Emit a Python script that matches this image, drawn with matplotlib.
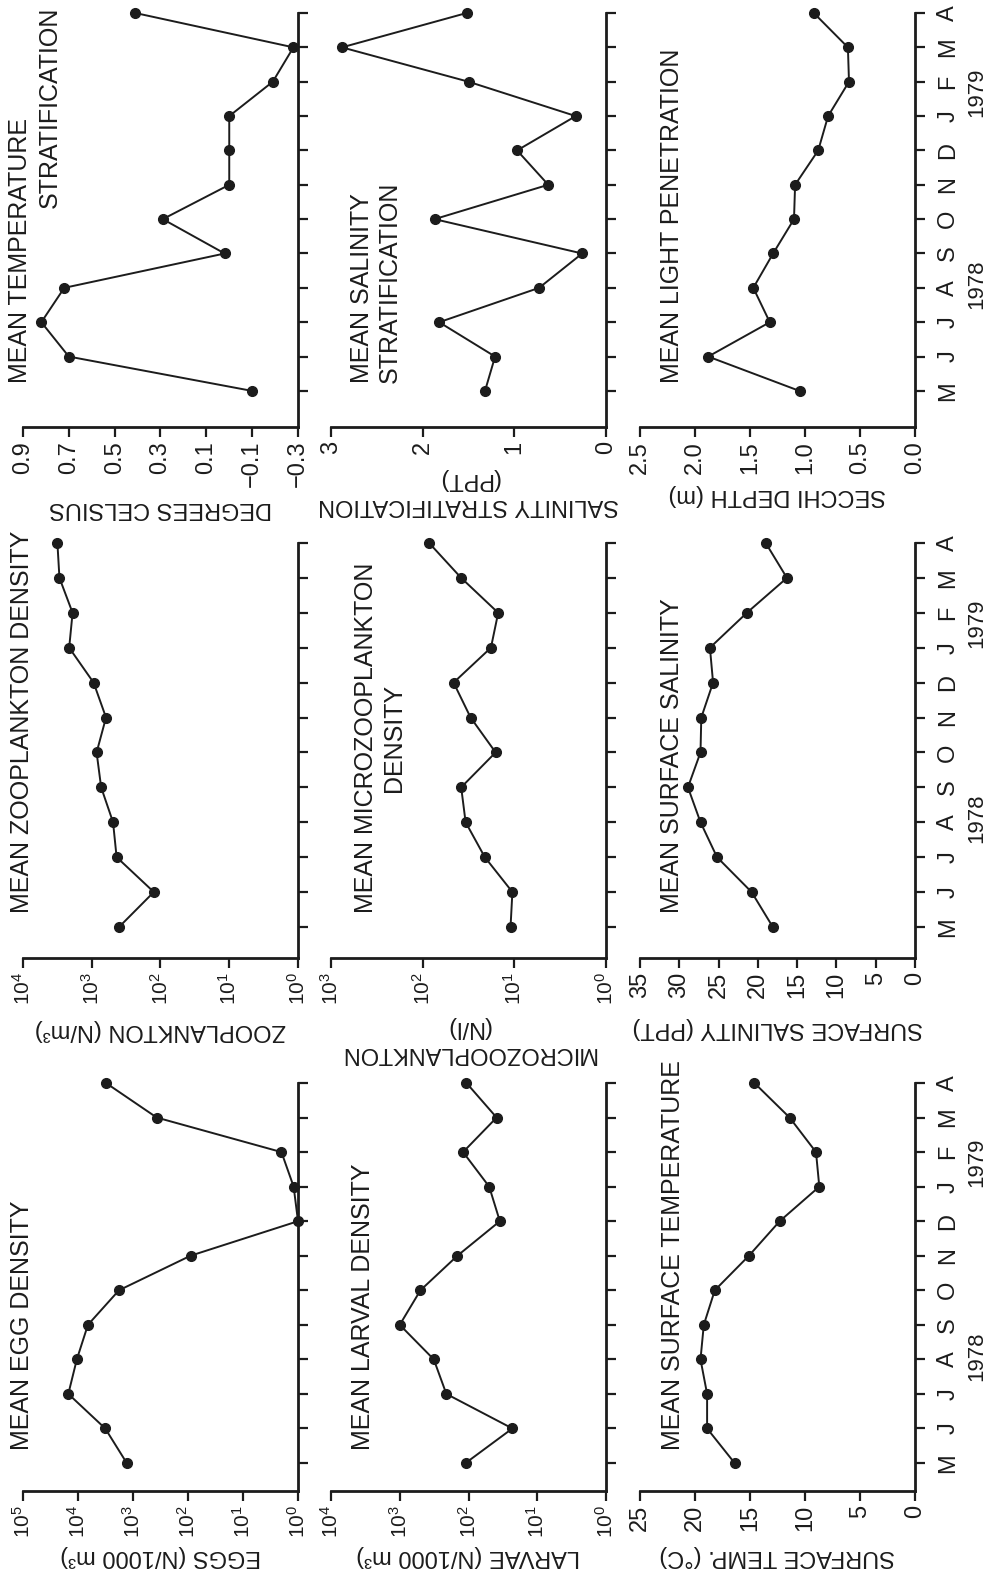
import math
import matplotlib
matplotlib.use('Agg')
import matplotlib.pyplot as plt
from matplotlib.transforms import offset_copy
from matplotlib.ticker import NullLocator

plt.rcParams['font.family'] = 'Liberation Sans'
plt.rcParams['mathtext.default'] = 'regular'

INK = '#1c1c1c'

# months May 1978 .. April 1979
months = ['M', 'J', 'J', 'A', 'S', 'O', 'N', 'D', 'J', 'F', 'M', 'A']
years = ['1978', '1979']

eggs = [1300, 3200, 15000, 10500, 6600, 1800, 90, 1.0, 1.2, 2.0, 370, 3100]
larvae = [110, 23, 210, 320, 1000, 500, 145, 35, 50, 120, 39, 107]
surface_temp = [16.4, 18.9, 18.9, 19.5, 19.2, 18.2, 15.1, 12.3, 8.7, 9.0, 11.4, 14.6]
zooplankton = [400, 125, 435, 490, 730, 850, 620, 940, 2130, 1900, 2950, 3160]
microzoo = [11, 10.5, 21, 34, 38, 16, 30, 46, 18, 15, 38, 85]
surface_sal = [18.1, 20.8, 25.2, 27.3, 28.9, 27.3, 27.2, 25.7, 26.1, 21.4, 16.3, 19.0]
temp_strat = [-0.10, 0.70, 0.82, 0.72, 0.02, 0.29, 0.0, 0.0, 0.0, -0.19, -0.28, 0.41]
sal_strat = [1.32, 1.21, 1.82, 0.73, 0.26, 1.87, 0.63, 0.97, 0.33, 1.50, 2.88, 1.52]
secchi = [1.05, 1.88, 1.32, 1.47, 1.29, 1.10, 1.09, 0.88, 0.79, 0.60, 0.61, 0.92]

log5 = [10.0 ** k for k in range(5, -1, -1)]
log4 = [10.0 ** k for k in range(4, -1, -1)]
log3 = [10.0 ** k for k in range(3, -1, -1)]

temp_ticks = [25, 20, 15, 10, 5, 0]
sal_ticks = [35, 30, 25, 20, 15, 10, 5, 0]
tstrat_ticks = [0.9, 0.7, 0.5, 0.3, 0.1, -0.1, -0.3]
tstrat_labels = ['0.9', '0.7', '0.5', '0.3', '0.1', '\u22120.1', '\u22120.3']
sstrat_ticks = [3, 2, 1, 0]
secchi_ticks = [2.5, 2.0, 1.5, 1.0, 0.5, 0.0]
secchi_labels = ['2.5', '2.0', '1.5', '1.0', '0.5', '0.0']


def pow_labels(vals):
    return [r'$10^{%d}$' % round(math.log10(v)) for v in vals]


# figure is the original page turned 90 degrees counter-clockwise
W, H = 994, 1573
fig = plt.figure(figsize=(W / 100, H / 100), dpi=100)
col_x = [(23, 298), (331, 606), (640, 915)]
band_y = [(13, 427), (543, 958), (1083, 1491)]
band_pad = [1.05, 0.89, 0.81]

panels = [
    # band, col, data, log, ticks, labels, axis label, label offset, title lines
    (2, 0, eggs, True, log5, None, 'EGGS (N/1000 m\u00b3)', 65,
     [('MEAN EGG DENSITY', -1, 0.38, 'bottom', 'left')]),
    (2, 1, larvae, True, log4, None, 'LARVAE (N/1000 m\u00b3)', 65,
     [('MEAN LARVAL DENSITY', 32, 0.38, 'bottom', 'left')]),
    (2, 2, surface_temp, False, temp_ticks, None, 'SURFACE TEMP. (\u00b0C)', 65,
     [('MEAN SURFACE TEMPERATURE', 33, 0.38, 'bottom', 'left')]),
    (1, 0, zooplankton, True, log4, None, 'ZOOPLANKTON (N/m\u00b3)', 72,
     [('MEAN ZOOPLANKTON DENSITY', -1, 0.4, 'bottom', 'left')]),
    (1, 1, microzoo, True, log3, None, 'MICROZOOPLANKTON\n(N/l)', 82,
     [('MEAN MICROZOOPLANKTON\nDENSITY', 49, 0.4, 'bottom', 'center')]),
    (1, 2, surface_sal, False, sal_ticks, None, 'SURFACE SALINITY (PPT)', 70,
     [('MEAN SURFACE SALINITY', 32, 0.4, 'bottom', 'left')]),
    (0, 0, temp_strat, False, tstrat_ticks, tstrat_labels, 'DEGREES CELSIUS', 81,
     [('MEAN TEMPERATURE', -3, 0.23, 'bottom', 'left'),
      ('STRATIFICATION', 27, 11.2, 'top', 'left')]),
    (0, 1, sal_strat, False, sstrat_ticks, None, 'SALINITY STRATIFICATION\n(PPT)', 65,
     [('MEAN SALINITY\nSTRATIFICATION', 45, 0.23, 'bottom', 'left')]),
    (0, 2, secchi, False, secchi_ticks, secchi_labels, 'SECCHI DEPTH (m)', 68,
     [('MEAN LIGHT PENETRATION', 32, 0.23, 'bottom', 'left')]),
]

t = list(range(len(months)))

for band, col, data, is_log, ticks, labels, xlab, xoff, titles in panels:
    x0, x1 = col_x[col]
    y0, y1 = band_y[band]
    ax = fig.add_axes([x0 / W, 1 - y1 / H, (x1 - x0) / W, (y1 - y0) / H])
    ax.patch.set_alpha(0)

    ax.plot(data, t, color=INK, lw=1.4, marker='o', ms=7, clip_on=False)

    if is_log:
        ax.set_xscale('log')
        labels = pow_labels(ticks)
        lab_size = 15
    else:
        lab_size = 17
        if labels is None:
            labels = [str(v) for v in ticks]
    ax.set_xlim(ticks[0], ticks[-1])
    ax.set_xticks(ticks)
    ax.set_xticklabels(labels, rotation=90, fontsize=lab_size, color=INK)
    ax.xaxis.set_minor_locator(NullLocator())

    ax.set_ylim(-band_pad[band], 11)
    ax.yaxis.tick_right()
    ax.set_yticks(t)
    if col == 2:
        ax.set_yticklabels(months, rotation=90, fontsize=17, color=INK, va='center')
        ytrans = offset_copy(ax.get_yaxis_transform(), fig=fig, x=62, units='dots')
        for yr, pos in zip(years, [3.1, 8.7]):
            ax.text(1, pos, yr, transform=ytrans, rotation=90, fontsize=16,
                    ha='center', va='center', color=INK)
    else:
        ax.set_yticklabels([])

    for side in ['left', 'top']:
        ax.spines[side].set_visible(False)
    for side in ['bottom', 'right']:
        ax.spines[side].set_linewidth(2)
        ax.spines[side].set_color(INK)
    ax.tick_params(axis='x', direction='out', length=7, width=1.6, pad=3, color=INK)
    ax.tick_params(axis='y', direction='out', length=7, width=1.6, pad=9, color=INK,
                   right=True, left=False)
    ax.yaxis.set_minor_locator(NullLocator())

    ax.set_xlabel(xlab, rotation=180, fontsize=17, color=INK, va='center',
                  ha='center', multialignment='center')
    ax.xaxis.set_label_coords(0.5, 0, transform=offset_copy(
        ax.transAxes, fig=fig, y=-xoff, units='dots'))

    for text, dx, ypos, va, malign in titles:
        tt = offset_copy(ax.get_yaxis_transform(), fig=fig, x=dx, units='dots')
        ax.text(0, ypos, text, transform=tt, rotation=90, fontsize=18, color=INK,
                ha='center', va=va, multialignment=malign, clip_on=False)

fig.savefig('out.png', dpi=100, facecolor='white')
